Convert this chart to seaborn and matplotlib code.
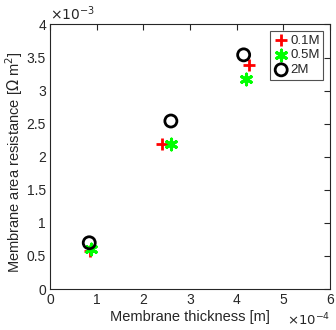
import matplotlib
matplotlib.use("Agg")
import matplotlib.pyplot as plt
import seaborn as sns
import pandas as pd
from matplotlib.ticker import FuncFormatter, MultipleLocator

sns.set_style("white")
plt.rcParams['font.family'] = ['Liberation Sans', 'DejaVu Sans']

series = ["0.1M", "0.5M", "2M"]
thickness_01 = [0.86e-4, 2.41e-4, 4.27e-4]
resist_01 = [0.58e-3, 2.19e-3, 3.38e-3]
thickness_05 = [0.87e-4, 2.59e-4, 4.20e-4]
resist_05 = [0.60e-3, 2.19e-3, 3.18e-3]
thickness_2 = [0.84e-4, 2.59e-4, 4.15e-4]
resist_2 = [0.70e-3, 2.54e-3, 3.54e-3]

fig = plt.figure(figsize=(3.36, 3.30), dpi=100)
ax = fig.add_axes([0.149, 0.124, 0.833, 0.802])

df1 = pd.DataFrame({"x": thickness_01, "y": resist_01})
df2 = pd.DataFrame({"x": thickness_05, "y": resist_05})
df3 = pd.DataFrame({"x": thickness_2, "y": resist_2})

sns.scatterplot(data=df1, x="x", y="y", marker="+", s=70, color="red",
                linewidth=2, ax=ax, label=series[0], zorder=3)
sns.scatterplot(data=df2, x="x", y="y", marker=(6, 2, 0), s=60, color="#00ff00",
                linewidth=2.2, ax=ax, label=series[1], zorder=3)
sns.scatterplot(data=df3, x="x", y="y", marker="o", s=75, facecolor="none",
                edgecolor="black", linewidth=2, ax=ax, label=series[2], zorder=3)

ax.set_xlim(0, 6e-4)
ax.set_ylim(0, 4e-3)
ax.xaxis.set_major_locator(MultipleLocator(1e-4))
ax.yaxis.set_major_locator(MultipleLocator(0.5e-3))
ax.xaxis.set_major_formatter(FuncFormatter(lambda v, p: "%g" % round(v * 1e4, 6)))
ax.yaxis.set_major_formatter(FuncFormatter(lambda v, p: "%g" % round(v * 1e3, 6)))
ax.tick_params(direction="in", length=4, width=0.8, top=True, right=True,
               labelsize=10, colors="#262626", pad=3)
for sp in ax.spines.values():
    sp.set_color("#262626")
    sp.set_linewidth(0.8)

ax.set_xlabel("Membrane thickness [m]", fontsize=10.5, color="#262626", labelpad=2)
ax.set_ylabel(r"Membrane area resistance [$\Omega$ m$^2$]", fontsize=10.5,
              color="#262626")
ax.yaxis.set_label_coords(-0.088, 0.478)

ax.text(0.0, 1.005, r"$\times10^{-3}$", transform=ax.transAxes, fontsize=10,
        color="#262626", ha="left", va="bottom")
ax.text(1.0, -0.148, r"$\times10^{-4}$", transform=ax.transAxes, fontsize=9.5,
        color="#262626", ha="right", va="bottom")

leg = ax.legend(loc="upper right", frameon=True, fontsize=9.5, handletextpad=0.1,
                borderpad=0.25, labelspacing=0.2, handlelength=1.2,
                borderaxespad=0.5, fancybox=False)
leg.get_frame().set_edgecolor("#262626")
leg.get_frame().set_linewidth(0.8)

fig.savefig("out.png", dpi=100)
